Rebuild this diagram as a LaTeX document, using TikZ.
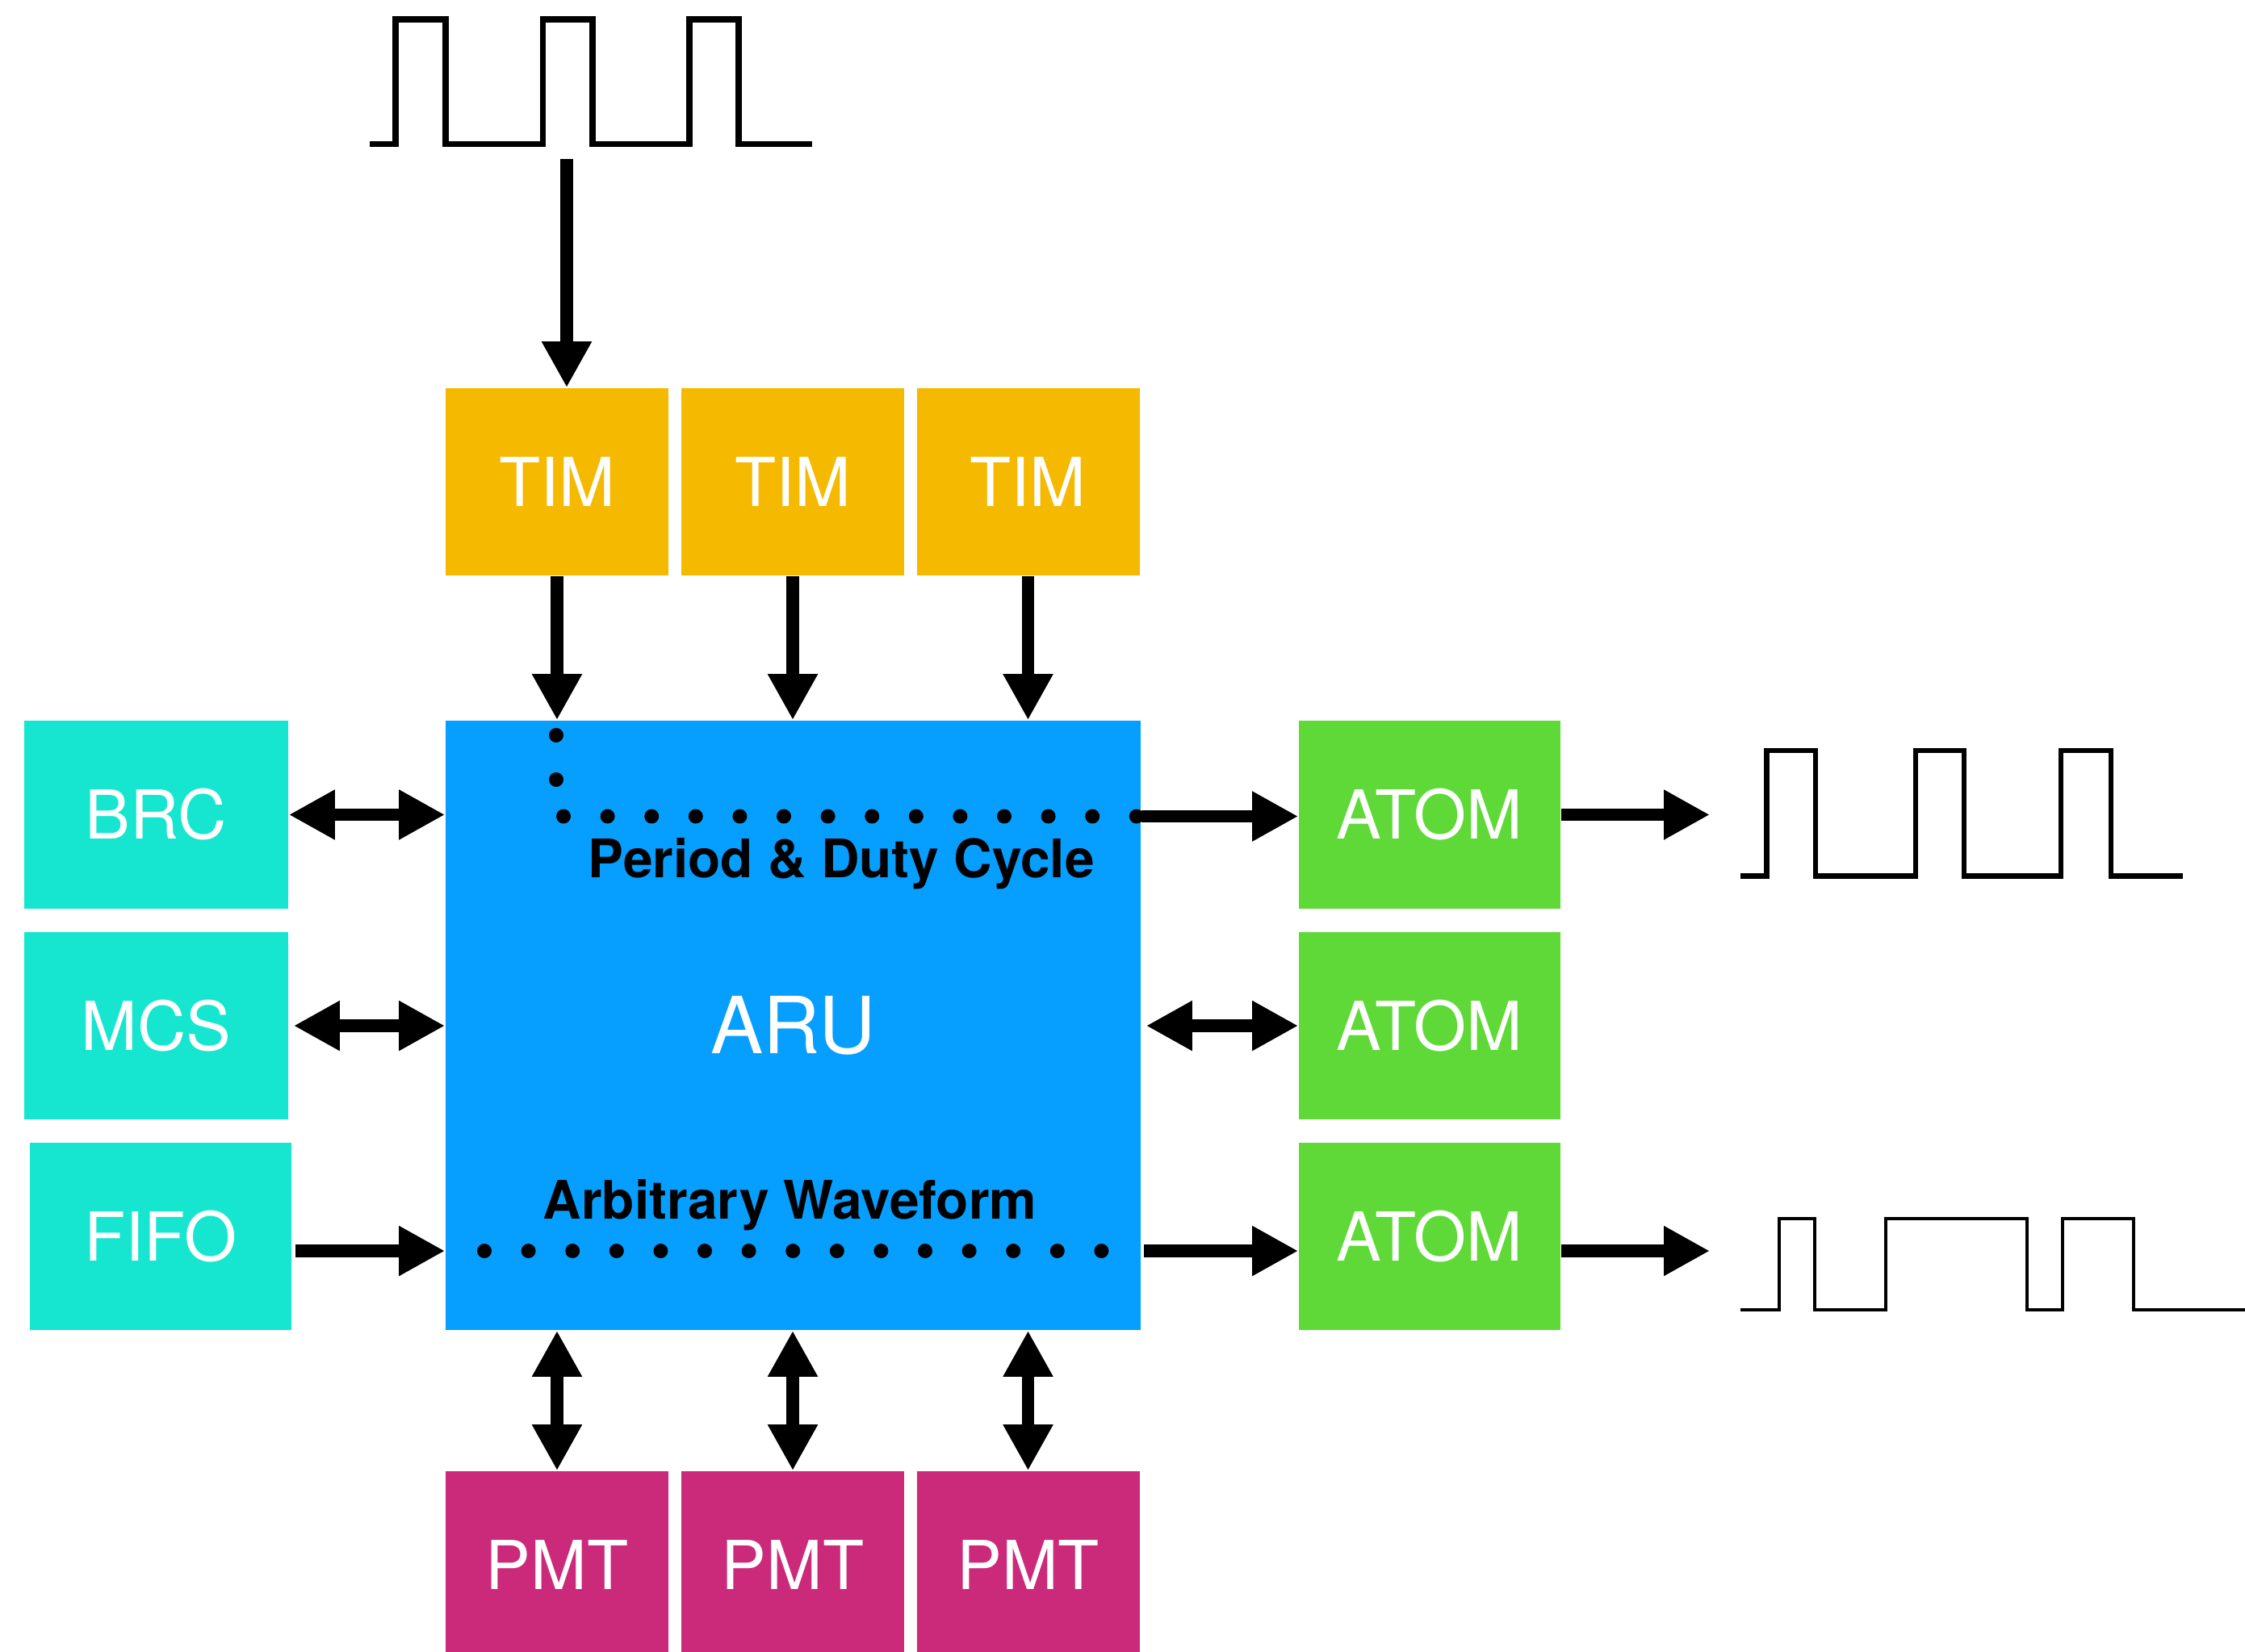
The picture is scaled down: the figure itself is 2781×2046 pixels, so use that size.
\documentclass[tikz,border=0pt]{standalone}
\usepackage{fontspec}
\setmainfont{TeX Gyre Heros}
\usetikzlibrary{arrows.meta}

\definecolor{timyellow}{HTML}{F5B900}
\definecolor{arublue}{HTML}{069FFF}
\definecolor{sideteal}{HTML}{16E6D0}
\definecolor{atomgreen}{HTML}{5FD937}
\definecolor{pmtmagenta}{HTML}{CB2A7B}

\begin{document}
\begin{tikzpicture}[x=0.25pt, y=-0.25pt,
  blk/.style={rectangle, inner sep=0pt, draw=none, text=white,
              minimum width=81pt, minimum height=58pt,
              font=\fontsize{20.9}{25}\selectfont},
  timbox/.style={blk, fill=timyellow, minimum width=69pt},
  arubox/.style={blk, fill=arublue, minimum width=215.25pt, minimum height=188.75pt,
                 font=\fontsize{24.4}{29}\selectfont},
  sidebox/.style={blk, fill=sideteal},
  atombox/.style={blk, fill=atomgreen},
  pmtbox/.style={blk, fill=pmtmagenta, minimum width=69pt},
  lbl/.style={inner sep=0pt, text=black, font=\bfseries\fontsize{16.45}{20}\selectfont},
  arr/.style={line width=3.9pt, -{Triangle[length=14.25pt,width=14.5pt]}},
  biarr/.style={line width=3.9pt,
    {Triangle[length=14.25pt,width=14.5pt]}-{Triangle[length=14.25pt,width=14.5pt]}},
  dotmark/.style={fill=black},
]

% page area
\fill[white] (0,0) rectangle (2781,2046);
\clip (0,0) rectangle (2781,2046);

% ---- blocks ----
\node[timbox] (tim1) at (690,597)    {TIM};
\node[timbox] (tim2) at (982,597)    {TIM};
\node[timbox] (tim3) at (1273.5,597) {TIM};

\node[arubox] (aru) at (982.5,1270.5) {ARU};

\node[sidebox, minimum width=81.75pt, minimum height=58.25pt] (brc) at (193.5,1009.5) {BRC};
\node[sidebox, minimum width=81.75pt] (mcs)  at (193.5,1271) {MCS};
\node[sidebox] (fifo) at (199,1532) {FIFO};

\node[atombox, minimum height=58.25pt] (atom1) at (1771,1009.5) {ATOM};
\node[atombox] (atom2) at (1771,1271) {ATOM};
\node[atombox] (atom3) at (1771,1532) {ATOM};

\node[pmtbox] (pmt1) at (690,1939)    {PMT};
\node[pmtbox] (pmt2) at (982,1939)    {PMT};
\node[pmtbox] (pmt3) at (1273.5,1939) {PMT};

% ---- signal paths inside the ARU ----
\coordinate (pdrow) at (698,1011.5);
\coordinate (awrow) at (600,1550);

\foreach \yy in {911,966}
  \fill[dotmark] (689,\yy) circle[radius=2.25pt];
\foreach \k in {0,...,13}
  \fill[dotmark] (698+54.6*\k,1011.5) circle[radius=2.25pt];
\foreach \k in {0,...,14}
  \fill[dotmark] (600+54.6*\k,1550) circle[radius=2.25pt];

\node[lbl, anchor=base west] (pdlabel) at (728,1087) {Period \& Duty Cycle};
\node[lbl, anchor=base west] (awlabel) at (672,1510) {Arbitrary Waveform};

% ---- waveforms ----
\draw[line width=1.8pt]
  (458,178.5) -- (490,178.5) -- (490,24) -- (552,24) -- (552,178.5)
  -- (672.5,178.5) -- (672.5,24) -- (734,24) -- (734,178.5)
  -- (854,178.5) -- (854,24) -- (915,24) -- (915,178.5) -- (1006,178.5);

\draw[line width=1.7pt]
  (2156,1085.5) -- (2188.5,1085.5) -- (2188.5,930) -- (2249,930) -- (2249,1085.5)
  -- (2373,1085.5) -- (2373,930) -- (2433,930) -- (2433,1085.5)
  -- (2553,1085.5) -- (2553,930) -- (2615,930) -- (2615,1085.5) -- (2704,1085.5);

\draw[line width=1.1pt]
  (2156,1623) -- (2204,1623) -- (2204,1510) -- (2248,1510) -- (2248,1623)
  -- (2336,1623) -- (2336,1510) -- (2511,1510) -- (2511,1623)
  -- (2555,1623) -- (2555,1510) -- (2643,1510) -- (2643,1623) -- (2790,1623);

% ---- connectors ----
\coordinate (clkin) at (702,197);
\draw[arr] (clkin) -- (clkin |- tim1.north);

\draw[arr] (tim1.south) -- (tim1.south |- aru.north);
\draw[arr] (tim2.south) -- (tim2.south |- aru.north);
\draw[arr] (tim3.south) -- (tim3.south |- aru.north);

\draw[biarr] (brc.east) -- (brc.east -| aru.west);
\draw[biarr, shorten <=1.5pt] (mcs.east) -- (mcs.east -| aru.west);
\draw[arr, shorten <=1pt] (fifo.east |- awrow) -- (aru.west |- awrow);

\draw[arr] (aru.east |- pdrow) -- (atom1.west |- pdrow);
\draw[biarr, shorten <=1.5pt] (aru.east |- atom2.west) -- (atom2.west);
\draw[arr, shorten <=0.75pt] (aru.east |- awrow) -- (atom3.west |- awrow);

\coordinate (out1) at (2118,1009.5);
\coordinate (out3) at (2118,1550);
\draw[arr] (atom1.east) -- (out1);
\draw[arr] (atom3.east |- out3) -- (out3);

\draw[biarr] (pmt1.north) -- (pmt1.north |- aru.south);
\draw[biarr] (pmt2.north) -- (pmt2.north |- aru.south);
\draw[biarr] (pmt3.north) -- (pmt3.north |- aru.south);

\end{tikzpicture}
\end{document}
